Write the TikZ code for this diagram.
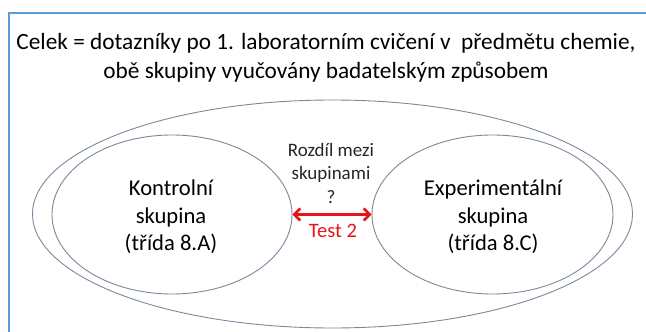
\documentclass[tikz,border=0pt]{standalone}
\usepackage{fontspec}
\setmainfont{Carlito}
\usetikzlibrary{arrows.meta,shapes.geometric}
\definecolor{framecol}{HTML}{5B9BD5}
\definecolor{ringcol}{HTML}{7A879C}
\definecolor{testred}{HTML}{E8141C}
\begin{document}
\begin{tikzpicture}[x=1pt,y=-1pt,
  ring/.style={draw=ringcol,line width=0.9pt},
  title/.style={align=center,font=\fontsize{23.3}{29}\selectfont,inner sep=0pt},
  grouptext/.style={align=center,font=\fontsize{22.6}{27.5}\selectfont,inner sep=0pt},
  midtext/.style={align=center,font=\fontsize{19}{23.5}\selectfont,inner sep=0pt,text=black!85},
  testarrow/.style={draw=testred,line width=2.6pt,{Straight Barb[length=6pt,width=12pt]}-{Straight Barb[length=6pt,width=12pt]}}]
  \useasboundingbox (0,0) rectangle (646,332);
  % outer frame, running off the right and bottom edges
  \draw[framecol,line width=2pt] (9,340) -- (9,13) -- (660,13);
  % heading
  \node[title] (head) at (326,58) {Celek = dotazníky po 1. laboratorním cvičení v\ \ předmětu chemie,\\obě skupiny vyučovány badatelským způsobem};
  % whole set and the two groups
  \draw[ring] (332.5,214) ellipse [x radius=300, y radius=114];
  \node[ring,ellipse,minimum width=240,minimum height=159,inner sep=0pt] (ctrl) at (172,214.5) {};
  \node[ring,ellipse,minimum width=241,minimum height=159,inner sep=0pt] (expe) at (492.5,214.5) {};
  \node[grouptext] (ctrltext) at (171,217) {Kontrolní\\skupina\\(třída 8.A)};
  \node[grouptext] (expetext) at (493,217) {Experimentální\\skupina\\(třída 8.C)};
  % comparison between the groups
  \node[midtext] (question) at (331,173) {Rozdíl mezi\\skupinami\\?};
  \draw[testarrow] (ctrl.east) -- (expe.west);
  \node[font=\fontsize{20.5}{24}\selectfont,text=testred,inner sep=0pt] (test) at (333,231) {Test 2};
\end{tikzpicture}
\end{document}
